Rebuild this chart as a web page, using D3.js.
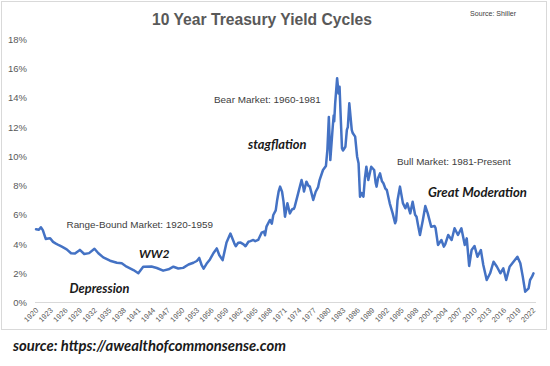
<!DOCTYPE html>
<html>
<head>
<meta charset="utf-8">
<script src="https://cdn.jsdelivr.net/npm/d3@7"></script>
<style>
  html, body { margin: 0; padding: 0; background: #ffffff; }
  svg { display: block; }
</style>
</head>
<body>
<svg id="chart" width="550" height="366"></svg>
<script>
// ---- Data ----
const years = [
  1920.0,1920.6,1921.0,1921.4,1922.0,1922.5,1922.9,1923.5,1924.0,1924.7,1925.3,1926.3,1927.2,1928.0,1929.0,1929.9,
  1930.9,1932.0,1932.8,1933.8,1935.2,1936.6,1937.6,1938.6,1940.0,1941.0,1942.0,1943.7,1944.8,1946.1,1947.2,1948.2,
  1949.2,1950.2,1951.3,1952.3,1953.0,1953.5,1954.0,1954.4,1955.0,1955.7,1956.4,1957.1,1957.6,1958.3,1958.7,1959.1,
  1959.9,1960.7,1961.0,1961.5,1962.0,1962.6,1963.0,1963.6,1964.0,1964.6,1965.0,1965.6,1966.3,1966.8,1967.0,1967.3,
  1968.0,1968.4,1968.7,1969.2,1969.5,1969.8,1970.1,1970.5,1970.8,1971.1,1971.6,1972.1,1972.6,1972.9,1973.1,1973.8,
  1974.5,1974.9,1975.0,1975.5,1975.9,1976.2,1976.9,1977.4,1977.9,1978.2,1978.9,1979.5,1979.8,1980.1,1980.4,1980.9,
  1981.1,1981.2,1981.4,1981.8,1982.1,1982.3,1982.5,1982.8,1983.0,1983.5,1983.8,1984.0,1984.3,1984.8,1985.0,1985.5,
  1985.9,1986.2,1986.5,1986.8,1987.2,1987.5,1987.8,1988.2,1988.8,1989.4,1989.7,1989.9,1990.2,1990.6,1991.0,1991.3,
  1991.7,1992.0,1992.6,1993.2,1993.7,1993.9,1994.2,1994.7,1995.3,1995.8,1996.2,1996.8,1997.3,1997.8,1998.1,1998.4,
  1998.8,1999.4,1999.9,2000.4,2001.1,2001.8,2002.0,2002.5,2003.2,2003.7,2004.0,2004.6,2005.3,2005.9,2006.6,2007.3,
  2008.0,2008.4,2008.9,2009.4,2010.0,2010.6,2011.3,2011.8,2012.5,2013.2,2013.9,2014.6,2015.3,2015.9,2016.5,2017.2,
  2018.0,2018.8,2019.4,2019.9,2020.4,2021.1,2021.4,2021.8,2022.1
];
const yields = [
  5.02,4.98,5.15,4.95,4.35,4.38,4.40,4.15,4.05,3.92,3.82,3.64,3.37,3.36,3.60,3.32,
  3.38,3.68,3.37,3.09,2.86,2.72,2.68,2.45,2.22,2.00,2.45,2.46,2.36,2.18,2.27,2.45,
  2.33,2.37,2.60,2.72,2.84,3.05,2.55,2.32,2.65,2.95,3.37,3.70,3.25,2.90,3.50,4.10,
  4.72,4.05,3.85,4.09,4.10,3.98,3.85,4.16,4.20,4.28,4.20,4.28,4.78,4.85,4.60,5.19,
  5.65,5.40,5.99,6.30,7.02,7.60,7.93,7.58,6.90,5.87,6.79,6.10,6.40,6.40,6.56,7.47,
  8.38,7.82,7.60,8.27,8.00,7.93,7.02,7.58,7.90,8.38,9.07,9.34,10.44,12.70,9.75,12.03,
  12.80,12.40,13.63,15.35,14.30,14.77,13.00,10.55,10.40,10.66,11.81,12.00,13.63,11.81,11.60,11.35,
  10.00,9.53,7.24,7.50,7.24,8.50,9.29,8.38,9.29,9.07,8.20,7.93,8.50,8.84,8.30,8.16,
  7.80,7.70,6.79,6.10,5.42,5.60,7.00,7.93,6.80,6.45,6.79,6.10,6.90,6.00,5.87,5.30,
  4.62,5.65,6.60,6.10,5.19,5.24,5.10,3.94,4.28,3.82,4.00,4.62,4.28,5.08,4.62,5.08,
  3.94,4.39,2.50,3.59,3.87,3.13,3.59,2.57,1.54,2.00,2.79,2.45,2.00,2.34,1.54,2.45,
  2.79,3.13,2.68,1.77,0.74,0.97,1.54,1.77,2.00
];
const xTickYears = d3.range(1920, 2023, 3);
const yTicks = [0, 2, 4, 6, 8, 10, 12, 14, 16, 18];

const titleText = "10 Year Treasury Yield Cycles";
const sourceTop = "Source: Shiller";
const sourceBottom = "source: https://awealthofcommonsense.com";
const labels = [
  { text: "Range-Bound Market: 1920-1959", x: 66.5, y: 225, w: 147, style: "plain" },
  { text: "Bear Market: 1960-1981", x: 214, y: 100, w: 107, style: "plain" },
  { text: "Bull Market: 1981-Present", x: 397, y: 162, w: 114, style: "plain" },
  { text: "stagflation", x: 248, y: 144, w: 58.5, style: "bi" },
  { text: "Great Moderation", x: 428, y: 192.5, w: 99, style: "bi" },
  { text: "WW2", x: 139, y: 254, w: 30.5, style: "bi" },
  { text: "Depression", x: 69.5, y: 289, w: 60, style: "bi" }
];

// ---- Drawing ----
const svg = d3.select("#chart");
const x = d3.scaleLinear().domain([1920, 2022]).range([36, 533]);
const y = d3.scaleLinear().domain([0, 18]).range([302.5, 39.5]);

// frame
svg.append("rect").attr("x", 1.5).attr("y", 1.5).attr("width", 545).attr("height", 328)
  .attr("fill", "#fff").attr("stroke", "#d9d9d9").attr("stroke-width", 1);

function fit(sel, w) {
  const node = sel.node();
  const fs = parseFloat(sel.attr("font-size"));
  const cw = node.getComputedTextLength();
  if (cw > 0) sel.attr("font-size", (fs * w / cw).toFixed(2));
}

// title
const t = svg.append("text").attr("x", 262).attr("y", 25).attr("text-anchor", "middle")
  .attr("font-family", "Liberation Sans, Arial, sans-serif").attr("font-weight", "bold")
  .attr("font-size", 15.5).attr("fill", "#595959").text(titleText);
fit(t, 220);

const st = svg.append("text").attr("x", 516).attr("y", 16).attr("text-anchor", "end")
  .attr("font-family", "Liberation Sans, Arial, sans-serif").attr("font-size", 7)
  .attr("fill", "#404040").text(sourceTop);
fit(st, 46);

// y axis (labels only)
const yAxis = d3.axisLeft(y).tickValues(yTicks).tickFormat(d => d + "%").tickSize(0).tickPadding(0);
const yg = svg.append("g").attr("transform", "translate(27,0)").call(yAxis);
yg.select(".domain").remove();
yg.selectAll("text").attr("font-family", "Liberation Sans, Arial, sans-serif")
  .attr("font-size", 9.5).attr("fill", "#595959");

// x axis baseline
svg.append("line").attr("x1", 35).attr("x2", 536).attr("y1", y(0)).attr("y2", y(0))
  .attr("stroke", "#d9d9d9").attr("stroke-width", 1);

const xAxis = d3.axisBottom(x).tickValues(xTickYears).tickFormat(d3.format("d")).tickSize(0).tickPadding(0);
const xg = svg.append("g").call(xAxis);
xg.select(".domain").remove();
xg.selectAll(".tick").attr("transform", d => `translate(${x(d) + 1},309)`);
xg.selectAll("text").attr("font-family", "Liberation Sans, Arial, sans-serif")
  .attr("font-size", 7.5).attr("fill", "#595959")
  .attr("text-anchor", "end").attr("dy", "0.35em").attr("y", 0).attr("x", 0)
  .attr("transform", "rotate(-45)");

// line
const data = years.map((yr, i) => ({ yr, v: yields[i] }));
svg.append("path").datum(data)
  .attr("fill", "none").attr("stroke", "#4472c4").attr("stroke-width", 2.5)
  .attr("stroke-linejoin", "round").attr("stroke-linecap", "round")
  .attr("d", d3.line().x(d => x(d.yr)).y(d => y(d.v)));

// annotations
labels.forEach(l => {
  const el = svg.append("text").attr("x", l.x).attr("y", l.y).attr("dy", "0.35em").text(l.text);
  if (l.style === "plain") {
    el.attr("font-family", "Liberation Sans, Arial, sans-serif").attr("font-size", 10).attr("fill", "#404040");
  } else {
    el.attr("font-family", "Lato, Open Sans, sans-serif").attr("font-weight", "bold")
      .attr("font-style", "italic").attr("font-size", 13).attr("fill", "#1a1a1a");
  }
  fit(el, l.w);
});

const sb = svg.append("text").attr("x", 13).attr("y", 346).attr("dy", "0.35em")
  .attr("font-family", "Lato, Open Sans, sans-serif").attr("font-weight", "bold")
  .attr("font-style", "italic").attr("font-size", 13).attr("fill", "#1a1a1a").text(sourceBottom);
fit(sb, 273);
</script>
</body>
</html>
